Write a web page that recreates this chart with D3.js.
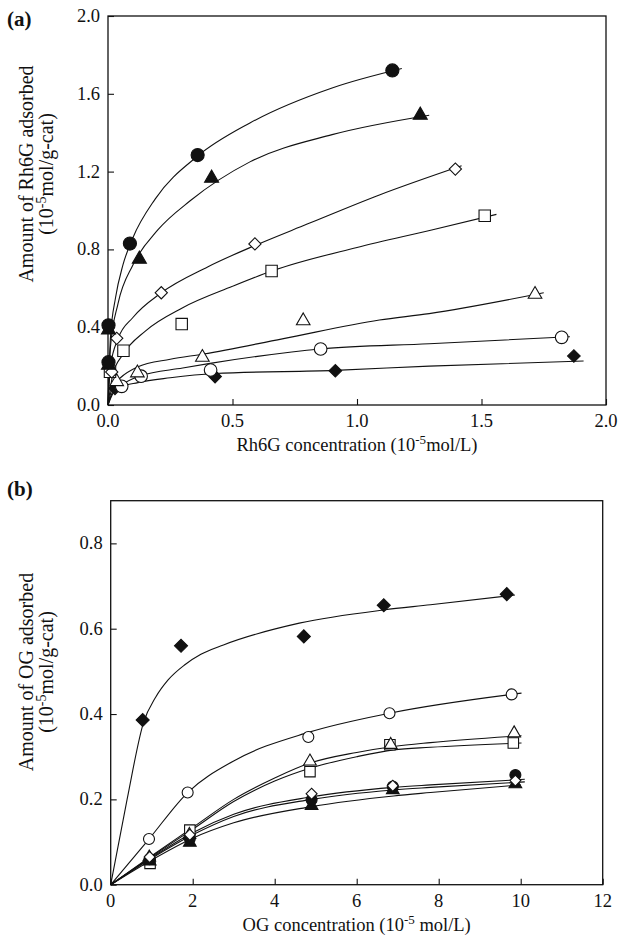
<!DOCTYPE html>
<html>
<head>
<meta charset="utf-8">
<script src="https://cdn.jsdelivr.net/npm/d3@7"></script>
<style>
  body { margin: 0; background: #fff; }
  svg text { font-family: "Liberation Serif", "DejaVu Serif", serif; fill: #111; }
</style>
</head>
<body>
<svg id="chart" width="624" height="941"></svg>
<script>
/* ===== Panel (a): Rh6G adsorption ===== */
const A_X_TICKS = [0, 0.5, 1.0, 1.5, 2.0];
const A_Y_TICKS = [0, 0.4, 0.8, 1.2, 1.6, 2.0];

// measured points [concentration, amount]
const A_FILLED_CIRCLE   = [[0.002, 0.22], [0.002, 0.41], [0.088, 0.83], [0.36, 1.285], [1.142, 1.72]];
const A_FILLED_TRIANGLE = [[0.002, 0.205], [0.002, 0.386], [0.126, 0.75], [0.416, 1.166], [1.254, 1.49]];
const A_OPEN_DIAMOND    = [[0.015, 0.17], [0.035, 0.343], [0.214, 0.577], [0.59, 0.828], [1.395, 1.213]];
const A_OPEN_SQUARE     = [[0.008, 0.171], [0.062, 0.279], [0.296, 0.416], [0.657, 0.689], [1.513, 0.973]];
const A_OPEN_TRIANGLE   = [[0.035, 0.12], [0.118, 0.165], [0.379, 0.245], [0.784, 0.433], [1.715, 0.569]];
const A_OPEN_CIRCLE     = [[0.055, 0.096], [0.133, 0.148], [0.412, 0.18], [0.854, 0.288], [1.822, 0.348]];
const A_FILLED_DIAMOND  = [[0.028, 0.086], [0.43, 0.146], [0.913, 0.176], [1.871, 0.252]];

// fitted curves
const A_FIT_FILLED_CIRCLE   = [[0, 0], [0.01, 0.35], [0.03, 0.55], [0.06, 0.72], [0.1, 0.86], [0.19, 1.06], [0.36, 1.28], [0.57, 1.45], [0.9, 1.63], [1.18, 1.73]];
const A_FIT_FILLED_TRIANGLE = [[0, 0], [0.01, 0.3], [0.04, 0.52], [0.1, 0.72], [0.2, 0.9], [0.33, 1.05], [0.57, 1.25], [0.9, 1.39], [1.29, 1.49]];
const A_FIT_OPEN_DIAMOND    = [[0, 0], [0.01, 0.2], [0.04, 0.34], [0.1, 0.45], [0.214, 0.577], [0.4, 0.71], [0.59, 0.82], [0.8, 0.93], [1.09, 1.08], [1.42, 1.23]];
const A_FIT_OPEN_SQUARE     = [[0, 0], [0.02, 0.16], [0.06, 0.26], [0.15, 0.38], [0.3, 0.5], [0.5, 0.61], [0.66, 0.69], [1.0, 0.81], [1.3, 0.9], [1.56, 0.98]];
const A_FIT_OPEN_TRIANGLE   = [[0, 0], [0.02, 0.1], [0.05, 0.14], [0.118, 0.195], [0.25, 0.235], [0.383, 0.262], [0.7, 0.34], [1.09, 0.437], [1.29, 0.47], [1.75, 0.577]];
const A_FIT_OPEN_CIRCLE     = [[0, 0], [0.02, 0.07], [0.05, 0.1], [0.13, 0.15], [0.3, 0.19], [0.41, 0.214], [0.6, 0.25], [0.854, 0.288], [1.29, 0.315], [1.855, 0.351]];
const A_FIT_FILLED_DIAMOND  = [[0, 0], [0.02, 0.06], [0.05, 0.09], [0.12, 0.115], [0.25, 0.14], [0.43, 0.162], [0.913, 0.178], [1.29, 0.2], [1.91, 0.226]];

/* ===== Panel (b): OG adsorption ===== */
const B_X_TICKS = [0, 2, 4, 6, 8, 10, 12];
const B_Y_TICKS = [0, 0.2, 0.4, 0.6, 0.8];

const B_FILLED_DIAMOND  = [[0.78, 0.386], [1.715, 0.56], [4.71, 0.582], [6.66, 0.655], [9.66, 0.681]];
const B_OPEN_CIRCLE     = [[0.934, 0.107], [1.877, 0.216], [4.82, 0.346], [6.8, 0.402], [9.78, 0.446]];
const B_OPEN_TRIANGLE   = [[0.94, 0.064], [1.92, 0.117], [4.86, 0.289], [6.83, 0.328], [9.84, 0.355]];
const B_OPEN_SQUARE     = [[0.96, 0.05], [1.93, 0.128], [4.86, 0.265], [6.81, 0.328], [9.82, 0.332]];
const B_FILLED_TRIANGLE = [[0.95, 0.055], [1.93, 0.099], [4.9, 0.185], [6.88, 0.222], [9.87, 0.236]];
const B_FILLED_CIRCLE   = [[0.95, 0.06], [1.93, 0.108], [4.9, 0.199], [6.88, 0.23], [9.87, 0.257]];
const B_OPEN_DIAMOND    = [[0.95, 0.065], [1.93, 0.117], [4.9, 0.213], [6.88, 0.232], [9.87, 0.244]];

const B_FIT_FILLED_DIAMOND  = [[0, 0], [0.4, 0.2], [0.8, 0.38], [1.1, 0.44], [1.4, 0.48], [1.8, 0.515], [2.2, 0.54], [2.75, 0.562], [4.6, 0.613], [6.66, 0.644], [7.8, 0.656], [9.86, 0.679]];
const B_FIT_OPEN_CIRCLE     = [[0, 0], [0.934, 0.107], [1.877, 0.216], [3.0, 0.29], [4.82, 0.357], [6.8, 0.402], [10.02, 0.449]];
const B_FIT_OPEN_TRIANGLE   = [[0, 0], [1, 0.068], [2, 0.134], [3, 0.2], [4, 0.25], [4.86, 0.285], [6, 0.31], [6.9, 0.324], [7.8, 0.333], [10.02, 0.349]];
const B_FIT_OPEN_SQUARE     = [[0, 0], [1, 0.066], [2, 0.13], [3, 0.195], [4, 0.243], [4.86, 0.273], [6, 0.3], [6.9, 0.316], [7.8, 0.322], [10.02, 0.332]];
const B_FIT_OPEN_DIAMOND    = [[0, 0], [1, 0.064], [2, 0.122], [3, 0.165], [4.9, 0.206], [6.9, 0.228], [7.8, 0.234], [10.1, 0.247]];
const B_FIT_FILLED_CIRCLE   = [[0, 0], [1, 0.062], [2, 0.117], [3, 0.16], [4.9, 0.2], [6.9, 0.222], [7.8, 0.228], [10.1, 0.241]];
const B_FIT_FILLED_TRIANGLE = [[0, 0], [1, 0.058], [2, 0.109], [3, 0.145], [4.9, 0.183], [6.9, 0.208], [7.8, 0.216], [10.0, 0.234]];

const svg = d3.select('#chart');

// marker shapes: d3 symbol, rotation, filled
const MARKERS = {
  fcircle:   { type: d3.symbolCircle,   rot: 0,  filled: true },
  ocircle:   { type: d3.symbolCircle,   rot: 0,  filled: false },
  ftriangle: { type: d3.symbolTriangle, rot: 0,  filled: true },
  otriangle: { type: d3.symbolTriangle, rot: 0,  filled: false },
  osquare:   { type: d3.symbolSquare,   rot: 0,  filled: false },
  odiamond:  { type: d3.symbolSquare,   rot: 45, filled: false },
  fdiamond:  { type: d3.symbolSquare,   rot: 45, filled: true }
};

function drawPanel(cfg) {
  const x = d3.scaleLinear().domain(cfg.xDomain).range([cfg.left, cfg.right]);
  const y = d3.scaleLinear().domain(cfg.yDomain).range([cfg.bottom, cfg.top]);
  const g = svg.append('g');

  // frame
  g.append('rect')
    .attr('x', cfg.left).attr('y', cfg.top)
    .attr('width', cfg.right - cfg.left).attr('height', cfg.bottom - cfg.top)
    .attr('fill', 'none').attr('stroke', '#111').attr('stroke-width', 1.3);

  // inward ticks
  g.append('g').attr('transform', `translate(0,${cfg.bottom})`)
    .call(d3.axisTop(x).tickValues(cfg.xTicks).tickSize(6).tickFormat(''))
    .call(a => a.select('.domain').remove())
    .selectAll('line').attr('stroke', '#111').attr('stroke-width', 1.1);
  g.append('g').attr('transform', `translate(${cfg.left},0)`)
    .call(d3.axisRight(y).tickValues(cfg.yTicks).tickSize(6).tickFormat(''))
    .call(a => a.select('.domain').remove())
    .selectAll('line').attr('stroke', '#111').attr('stroke-width', 1.1);

  // tick labels
  g.selectAll('.xt').data(cfg.xTicks).join('text')
    .attr('x', d => x(d)).attr('y', cfg.bottom + 22)
    .attr('text-anchor', 'middle').style('font-size', '18.5px')
    .text(cfg.xFormat);
  g.selectAll('.yt').data(cfg.yTicks).join('text')
    .attr('x', cfg.left - 8).attr('y', d => y(d) + 6)
    .attr('text-anchor', 'end').style('font-size', '18.5px')
    .text(d3.format('.1f'));

  // x title
  const xt = g.append('text')
    .attr('x', (cfg.left + cfg.right) / 2).attr('y', cfg.bottom + 46)
    .attr('text-anchor', 'middle').style('font-size', '18.5px');
  xt.append('tspan').text(cfg.xTitle[0]);
  xt.append('tspan').attr('dy', -7).style('font-size', '13px').text('-5');
  xt.append('tspan').attr('dy', 7).text(cfg.xTitle[1]);

  // y title, two lines
  g.append('text')
    .attr('transform', `translate(33,${cfg.yTitleMid}) rotate(-90)`)
    .attr('text-anchor', 'middle').style('font-size', '20px')
    .text(cfg.yTitle);
  const yt2 = g.append('text')
    .attr('transform', `translate(53,${cfg.yTitleMid}) rotate(-90)`)
    .attr('text-anchor', 'middle').style('font-size', '20px');
  yt2.append('tspan').text('(10');
  yt2.append('tspan').attr('dy', -7).style('font-size', '14px').text('-5');
  yt2.append('tspan').attr('dy', 7).text('mol/g-cat)');

  // panel tag
  g.append('text').attr('x', 7).attr('y', cfg.tagY)
    .style('font-size', '21px').style('font-weight', 'bold').text(cfg.tag);

  // fitted curves
  const line = d3.line().x(d => x(d[0])).y(d => y(d[1])).curve(d3.curveMonotoneX);
  cfg.series.forEach(s => {
    g.append('path').datum(s.fit)
      .attr('d', line).attr('fill', 'none')
      .attr('stroke', '#111').attr('stroke-width', 1.1);
  });

  // markers
  cfg.series.forEach(s => {
    const m = MARKERS[s.marker];
    const sym = d3.symbol().type(m.type).size(s.size);
    g.selectAll(null).data(s.points).join('path')
      .attr('d', sym)
      .attr('transform', d => `translate(${x(d[0])},${y(d[1])}) rotate(${m.rot})`)
      .attr('fill', m.filled ? '#111' : '#fff')
      .attr('stroke', '#111').attr('stroke-width', 1.1);
  });
}

drawPanel({
  tag: '(a)', tagY: 26,
  left: 108, right: 606, top: 16, bottom: 405,
  xDomain: [0, 2], yDomain: [0, 2],
  xTicks: A_X_TICKS, yTicks: A_Y_TICKS, xFormat: d3.format('.1f'),
  xTitle: ['Rh6G concentration (10', 'mol/L)'],
  yTitle: 'Amount of Rh6G adsorbed', yTitleMid: 174,
  series: [
    { points: A_FILLED_DIAMOND,  fit: A_FIT_FILLED_DIAMOND,  marker: 'fdiamond',  size: 80 },
    { points: A_OPEN_CIRCLE,     fit: A_FIT_OPEN_CIRCLE,     marker: 'ocircle',   size: 125 },
    { points: A_OPEN_TRIANGLE,   fit: A_FIT_OPEN_TRIANGLE,   marker: 'otriangle', size: 80 },
    { points: A_OPEN_SQUARE,     fit: A_FIT_OPEN_SQUARE,     marker: 'osquare',   size: 130 },
    { points: A_OPEN_DIAMOND,    fit: A_FIT_OPEN_DIAMOND,    marker: 'odiamond',  size: 75 },
    { points: A_FILLED_TRIANGLE, fit: A_FIT_FILLED_TRIANGLE, marker: 'ftriangle', size: 85 },
    { points: A_FILLED_CIRCLE,   fit: A_FIT_FILLED_CIRCLE,   marker: 'fcircle',   size: 135 }
  ]
});

drawPanel({
  tag: '(b)', tagY: 496,
  left: 110.7, right: 602.7, top: 500.7, bottom: 884.7,
  xDomain: [0, 12], yDomain: [0, 0.9],
  xTicks: B_X_TICKS, yTicks: B_Y_TICKS, xFormat: d3.format('d'),
  xTitle: ['OG concentration (10', ' mol/L)'],
  yTitle: 'Amount of OG adsorbed', yTitleMid: 672,
  series: [
    { points: B_FILLED_DIAMOND,  fit: B_FIT_FILLED_DIAMOND,  marker: 'fdiamond',  size: 85 },
    { points: B_OPEN_CIRCLE,     fit: B_FIT_OPEN_CIRCLE,     marker: 'ocircle',   size: 95 },
    { points: B_OPEN_SQUARE,     fit: B_FIT_OPEN_SQUARE,     marker: 'osquare',   size: 110 },
    { points: B_OPEN_TRIANGLE,   fit: B_FIT_OPEN_TRIANGLE,   marker: 'otriangle', size: 70 },
    { points: B_FILLED_TRIANGLE, fit: B_FIT_FILLED_TRIANGLE, marker: 'ftriangle', size: 70 },
    { points: B_FILLED_CIRCLE,   fit: B_FIT_FILLED_CIRCLE,   marker: 'fcircle',   size: 95 },
    { points: B_OPEN_DIAMOND,    fit: B_FIT_OPEN_DIAMOND,    marker: 'odiamond',  size: 60 }
  ]
});
</script>
</body>
</html>
